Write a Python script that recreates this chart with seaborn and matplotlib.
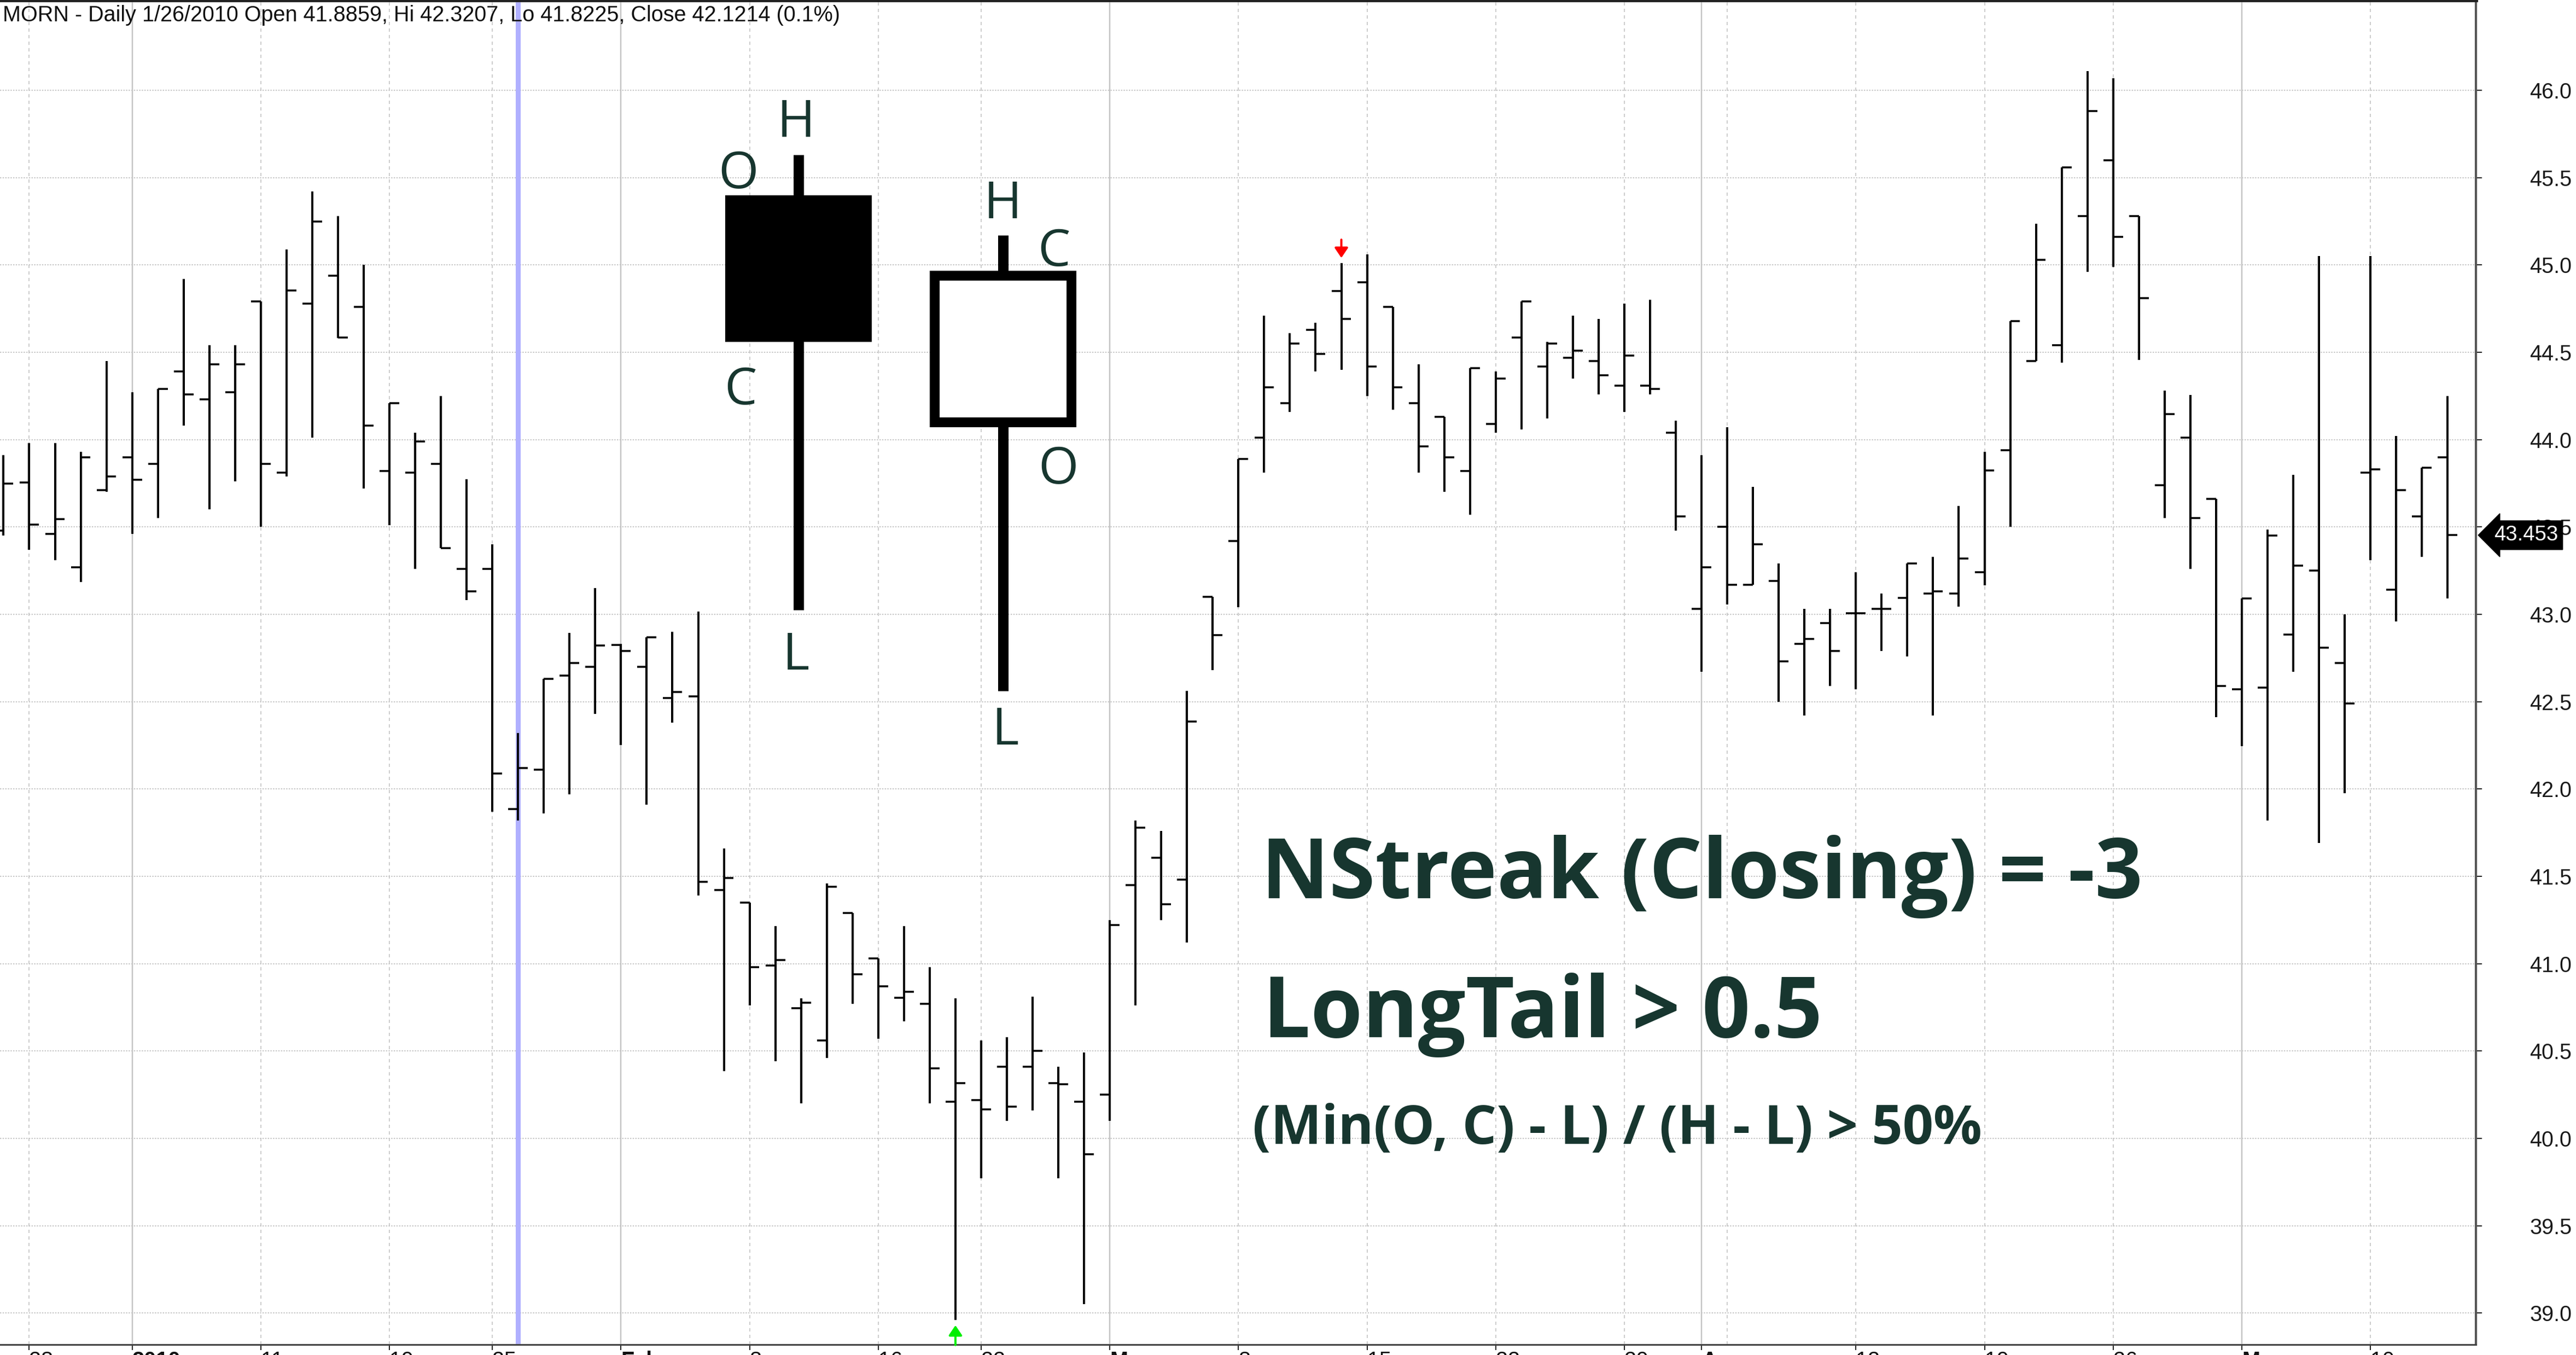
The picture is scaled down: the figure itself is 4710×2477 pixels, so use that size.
import matplotlib
matplotlib.use('Agg')
import matplotlib.pyplot as plt
import matplotlib.transforms as mtransforms
from matplotlib.patches import Rectangle
import seaborn as sns
import numpy as np
import pandas as pd

# ---- data ----
holidays = ['2009-12-25', '2010-01-01', '2010-01-18', '2010-02-15', '2010-04-02']
dates = pd.bdate_range('2009-12-24', '2010-05-13')
dates = dates[~dates.isin(pd.to_datetime(holidays))]

opens = [43.48, 43.755, 43.46, 43.27, 43.71, 43.90, 43.86, 44.39, 44.23, 44.27,
         44.79, 43.81, 44.78, 44.94, 44.76, 43.82, 43.81, 43.86, 43.26, 43.26,
         41.885, 42.11, 42.65, 42.70, 42.825, 42.70, 42.52, 42.53, 41.42, 41.35,
         40.99, 40.745, 40.56, 41.29, 41.03, 40.806, 40.77, 40.21, 40.22, 40.41,
         40.41, 40.315, 40.21, 40.25, 41.45, 41.605, 41.48, 43.10, 43.42, 44.01,
         44.21, 44.63, 44.85, 44.90, 44.76, 44.21, 44.13, 43.82, 44.09, 44.585,
         44.42, 44.47, 44.45, 44.31, 44.31, 44.04, 43.03, 43.50, 43.17, 43.19,
         42.83, 42.95, 43.005, 43.03, 43.095, 43.12, 43.12, 43.24, 43.94, 44.45,
         44.54, 45.28, 45.60, 45.28, 43.74, 44.01, 43.66, 42.57, 42.58, 42.885,
         43.25, 42.72, 43.81, 43.14, 43.56, 43.90]
highs = [43.91, 43.98, 43.98, 43.93, 44.45, 44.27, 44.29, 44.92, 44.54, 44.54,
         44.79, 45.09, 45.42, 45.28, 45.00, 44.21, 44.04, 44.25, 43.775, 43.40,
         42.32, 42.63, 42.895, 43.15, 42.83, 42.87, 42.90, 43.015, 41.66, 41.35,
         41.215, 40.80, 41.46, 41.29, 41.03, 41.215, 40.98, 40.80, 40.56, 40.58,
         40.81, 40.41, 40.49, 41.25, 41.82, 41.76, 42.56, 43.10, 43.89, 44.71,
         44.61, 44.67, 45.01, 45.06, 44.76, 44.43, 44.13, 44.41, 44.39, 44.79,
         44.56, 44.71, 44.69, 44.78, 44.80, 44.11, 43.91, 44.07, 43.73, 43.29,
         43.03, 43.03, 43.24, 43.12, 43.29, 43.33, 43.62, 43.93, 44.68, 45.235,
         45.56, 46.11, 46.07, 45.28, 44.28, 44.255, 43.66, 43.09, 43.485, 43.80,
         45.05, 43.00, 45.05, 44.02, 43.84, 44.25]
lows = [43.45, 43.37, 43.31, 43.185, 43.70, 43.46, 43.55, 44.08, 43.60, 43.76,
        43.50, 43.79, 44.01, 44.58, 43.72, 43.51, 43.26, 43.38, 43.08, 41.87,
        41.82, 41.86, 41.97, 42.43, 42.25, 41.91, 42.38, 41.39, 40.385, 40.76,
        40.44, 40.20, 40.46, 40.77, 40.57, 40.67, 40.20, 38.96, 39.77, 40.10,
        40.16, 39.77, 39.05, 40.10, 40.76, 41.25, 41.12, 42.68, 43.04, 43.81,
        44.16, 44.39, 44.40, 44.25, 44.17, 43.81, 43.70, 43.57, 44.04, 44.06,
        44.12, 44.35, 44.26, 44.16, 44.26, 43.48, 42.67, 43.055, 43.17, 42.50,
        42.42, 42.59, 42.57, 42.79, 42.76, 42.42, 43.045, 43.165, 43.50, 44.45,
        44.44, 44.96, 44.99, 44.455, 43.55, 43.26, 42.41, 42.245, 41.82, 42.67,
        41.69, 41.975, 43.31, 42.96, 43.33, 43.09]
closes = [43.75, 43.515, 43.545, 43.90, 43.79, 43.77, 44.29, 44.26, 44.43, 44.43,
          43.86, 44.855, 45.25, 44.585, 44.08, 44.21, 43.99, 43.38, 43.13, 42.09,
          42.12, 42.63, 42.72, 42.82, 42.79, 42.87, 42.556, 41.47, 41.49, 40.98,
          41.02, 40.775, 41.44, 40.94, 40.87, 40.84, 40.40, 40.315, 40.165, 40.18,
          40.50, 40.31, 39.91, 41.22, 41.78, 41.34, 42.385, 42.88, 43.89, 44.30,
          44.55, 44.49, 44.69, 44.42, 44.30, 43.96, 43.90, 44.41, 44.35, 44.79,
          44.55, 44.51, 44.37, 44.48, 44.29, 43.56, 43.27, 43.17, 43.40, 42.73,
          42.86, 42.79, 43.005, 43.03, 43.29, 43.13, 43.32, 43.825, 44.68, 45.03,
          45.56, 45.88, 45.16, 44.81, 44.145, 43.55, 42.59, 43.09, 43.45, 43.28,
          42.81, 42.49, 43.83, 43.71, 43.84, 43.453]

buy_signals = ['2010-02-19']
sell_signals = ['2010-03-12']
cursor_date = '2010-01-26'
last_price = 43.453
title = 'MORN - Daily 1/26/2010 Open 41.8859, Hi 42.3207, Lo 41.8225, Close 42.1214 (0.1%)'

# example candles drawn on the chart (black = down day, white = up day)
demo_open = [45.40, 44.10]
demo_high = [45.63, 45.17]
demo_low = [43.025, 42.56]
demo_close = [44.56, 44.94]

headline = ['NStreak (Closing) = -3', 'LongTail > 0.5']
formula = '(Min(O, C) - L) / (H - L) > 50%'

df = pd.DataFrame({'date': dates, 'open': opens, 'high': highs, 'low': lows, 'close': closes})
df['x'] = np.arange(len(df))

# ---- style ----
sns.set_theme(style='white')
plt.rcParams['font.family'] = ['Liberation Sans', 'DejaVu Sans']
ink = '#17362f'
px = 0.72  # one pixel in points at dpi 100

fig = plt.figure(figsize=(47.1, 24.77), dpi=100)
ax = fig.add_axes([0, 19 / 2477, 4527 / 4710, 2458 / 2477])
ax.set_xlim(-0.137, 96.10)
ax.set_ylim(38.819, 46.517)

# grid
levels = np.arange(39.0, 46.01, 0.5)
ax.set_yticks(levels)
ax.set_yticklabels([f'{v:.1f}' for v in levels])
ax.grid(axis='y', color='#c6c6c6', lw=2 * px, ls=(0, (1.2, 1.2)), zorder=0)

d = df['date']
month_start = [i for i in range(1, len(d)) if d[i].month != d[i - 1].month]
week_start = [i for i in range(1, len(d)) if d[i].isocalendar().week != d[i - 1].isocalendar().week]
week_only = [i for i in week_start if i not in month_start]
ax.vlines(week_only, 38.819, 46.517, color='#cdcdcd', lw=2 * px, ls=(0, (3, 3)), zorder=0)
ax.vlines(month_start, 38.819, 46.517, color='#c4c4c4', lw=2.5 * px, zorder=0)

tick_pos = [i for i in sorted(set(month_start) | set(week_start))
            if i in month_start or not any(0 < i - m < 3 for m in month_start)]
tick_lab = []
for i in tick_pos:
    if i in month_start:
        tick_lab.append('2010' if d[i].month == 1 else d[i].strftime('%b'))
    else:
        tick_lab.append(str(d[i].day))
ax.set_xticks(tick_pos)
ax.set_xticklabels(tick_lab)
for i, lab in zip(tick_pos, ax.get_xticklabels()):
    lab.set_ha('left')
    if i in month_start:
        lab.set_fontweight('bold')

# cursor line
cx = df.loc[df['date'] == pd.Timestamp(cursor_date), 'x'].iloc[0]
ax.axvline(cx, color='#b0b0ff', lw=9 * px, zorder=1)

# example candles
demo_x = [30.9, 38.85]
half_w = 2.85
for bx, o, h, l, c in zip(demo_x, demo_open, demo_high, demo_low, demo_close):
    ax.vlines(bx, l, h, color='black', lw=19 * px, capstyle='butt', zorder=2)
    lo_, hi_ = min(o, c), max(o, c)
    if c < o:
        ax.add_patch(Rectangle((bx - half_w, lo_), 2 * half_w, hi_ - lo_, fc='black', ec='none', zorder=3))
    else:
        ax.add_patch(Rectangle((bx - half_w + 0.19, lo_), 2 * half_w - 0.38, hi_ - lo_, fc='white',
                               ec='black', lw=18 * px, joinstyle='miter', zorder=3))

lab_kw = dict(family=['Open Sans', 'DejaVu Sans'], fontsize=68, color=ink, ha='center', va='baseline', zorder=5)
bx, o, h, l, c = demo_x[0], demo_open[0], demo_high[0], demo_low[0], demo_close[0]
ax.text(bx - 0.1, h + 0.1035, 'H', **lab_kw)
ax.text(bx - 2.34, o + 0.04, 'O', **lab_kw)
ax.text(bx - 2.25, c - 0.357, 'C', **lab_kw)
ax.text(bx - 0.1, l - 0.34, 'L', **lab_kw)
bx, o, h, l, c = demo_x[1], demo_open[1], demo_high[1], demo_low[1], demo_close[1]
ax.text(bx, h + 0.0975, 'H', **lab_kw)
ax.text(bx + 1.98, c + 0.0535, 'C', **lab_kw)
ax.text(bx + 2.15, o - 0.3515, 'O', **lab_kw)
ax.text(bx + 0.09, l - 0.3065, 'L', **lab_kw)

# OHLC bars
tick_w = 0.38
ax.vlines(df['x'], df['low'], df['high'], color='black', lw=4 * px, capstyle='butt', zorder=4)
ax.hlines(df['open'], df['x'] - tick_w, df['x'], color='black', lw=3.5 * px, zorder=4)
ax.hlines(df['close'], df['x'], df['x'] + tick_w, color='black', lw=3.5 * px, zorder=4)

# signal arrows
arrow = dict(arrowstyle='-|>,head_length=0.55,head_width=0.37', mutation_scale=20, lw=4 * px, shrinkA=0)
for s in sell_signals:
    r = df[df['date'] == pd.Timestamp(s)].iloc[0]
    ax.annotate('', xy=(r['x'], r['high']), xytext=(0, 31), textcoords='offset points',
                arrowprops=dict(color='red', shrinkB=7, **arrow), zorder=6)
for s in buy_signals:
    r = df[df['date'] == pd.Timestamp(s)].iloc[0]
    ax.annotate('', xy=(r['x'], r['low']), xytext=(0, -33), textcoords='offset points',
                arrowprops=dict(color='#00ee00', shrinkB=7, **arrow), zorder=6, annotation_clip=False)

# axes frame and ticks
sns.despine(ax=ax, left=True, top=False, right=False, bottom=False)
ax.spines['top'].set_color('#202020')
ax.spines['top'].set_linewidth(7 * px)
ax.spines['right'].set_color('#555555')
ax.spines['right'].set_linewidth(4 * px)
ax.spines['bottom'].set_color('#404040')
ax.spines['bottom'].set_linewidth(3 * px)
ax.yaxis.tick_right()
ax.tick_params(axis='y', length=11 * px, width=2 * px, pad=87 * px, labelsize=28.5,
               labelcolor='#1a1a1a', color='#222222', left=False, right=True)
ax.tick_params(axis='x', length=10 * px, width=2 * px, pad=1, labelsize=28.5,
               labelcolor='#111111', color='#222222', bottom=True)

# last price marker
trans = mtransforms.offset_copy(mtransforms.blended_transform_factory(ax.transAxes, ax.transData),
                                fig=fig, x=33, y=0, units='dots')
ax.text(1.0, last_price, f'{last_price:.3f}', transform=trans, ha='left', va='center',
        fontsize=27.5, color='white', clip_on=False, zorder=10,
        bbox=dict(boxstyle='larrow,pad=0.22', fc='black', ec='black'))

# header and annotation text
fig.text(0.001, 0.9843, title, fontsize=28.5, color='#111111', va='baseline', ha='left')
big = dict(family=['Open Sans', 'DejaVu Sans'], fontweight='bold', color=ink, va='baseline', ha='left')
fig.text(0.4896, 0.3371, headline[0], fontsize=110, **big)
fig.text(0.4902, 0.2346, headline[1], fontsize=111, **big)
fig.text(0.4862, 0.1558, formula, fontsize=71, **big)

fig.savefig('out.png', dpi=100)
